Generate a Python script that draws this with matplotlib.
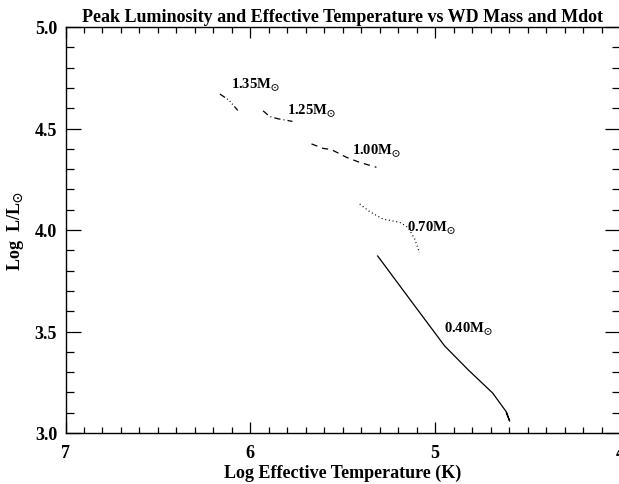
import matplotlib
matplotlib.use("Agg")
import matplotlib.pyplot as plt
from matplotlib.ticker import MultipleLocator

plt.rcParams['font.family'] = ['Liberation Serif', 'DejaVu Serif']
plt.rcParams['font.weight'] = 'bold'
plt.rcParams['mathtext.fontset'] = 'stix'

# Data (log Teff, log L/Lsun)
teff_040 = [5.311, 5.130, 4.949, 4.820, 4.689, 4.614, 4.597, 4.615]
logl_040 = [3.872, 3.650, 3.429, 3.310, 3.197, 3.103, 3.059, 3.099]

teff_070 = [5.408, 5.354, 5.282, 5.192, 5.147, 5.111, 5.084]
logl_070 = [4.128, 4.090, 4.054, 4.038, 4.013, 3.956, 3.887]

teff_100 = [5.669, 5.606, 5.561, 5.480, 5.408, 5.318]
logl_100 = [4.424, 4.402, 4.396, 4.358, 4.333, 4.309]

teff_125 = [5.931, 5.895, 5.851, 5.772]
logl_125 = [4.587, 4.559, 4.548, 4.535]

teff_135 = [6.165, 6.116, 6.068]
logl_135 = [4.670, 4.640, 4.589]

mass_labels = ["0.40", "0.70", "1.00", "1.25", "1.35"]
label_x = [4.951, 5.154, 5.451, 5.803, 6.105]
label_y = [3.520, 4.017, 4.397, 4.591, 4.719]

fig = plt.figure(figsize=(6.19, 4.85), dpi=100)
ax = fig.add_axes([65.5/619, 1-434/485, (620-65.5)/619, (434-28)/485])

lw = 0.9
ax.plot(teff_040, logl_040, color='black', lw=lw, linestyle='-')
ax.plot(teff_070, logl_070, color='black', lw=lw, linestyle=(0, (0.8, 2.2)))
ax.plot(teff_100, logl_100, color='black', lw=lw, linestyle=(0, (5, 4)))
ax.plot(teff_125, logl_125, color='black', lw=lw, linestyle=(0, (5, 2.5, 0.8, 2.5)))
ax.plot(teff_135, logl_135, color='black', lw=lw, linestyle=(0, (5, 2, 0.8, 2, 0.8, 2, 0.8, 2)))

for m, lx, ly in zip(mass_labels, label_x, label_y):
    ax.text(lx, ly, m + r"M$_{\odot}$", fontsize=10.5, fontweight='bold',
            ha='left', va='center')

ax.set_xlim(7, 4)
ax.set_ylim(3.0, 5.0)
ax.xaxis.set_major_locator(MultipleLocator(1))
ax.xaxis.set_minor_locator(MultipleLocator(0.1))
ax.yaxis.set_major_locator(MultipleLocator(0.5))
ax.yaxis.set_minor_locator(MultipleLocator(0.1))
ax.xaxis.set_major_formatter(plt.FuncFormatter(lambda v, p: "%d" % round(v)))
ax.yaxis.set_major_formatter(plt.FuncFormatter(lambda v, p: "%.1f" % v))

ax.tick_params(axis='x', which='major', direction='in', length=8, width=0.9,
               top=True, labelsize=13, pad=8)
ax.tick_params(axis='x', which='minor', direction='in', length=4, width=0.9, top=True)
ax.tick_params(axis='y', which='major', direction='in', length=11, width=0.9,
               right=True, labelsize=13, pad=6)
ax.tick_params(axis='y', which='minor', direction='in', length=5.5, width=0.9, right=True)
for lab in ax.get_xticklabels() + ax.get_yticklabels():
    lab.set_fontweight('bold')
for s in ax.spines.values():
    s.set_linewidth(1.0)

ax.set_xlabel("Log Effective Temperature (K)", fontsize=13, fontweight='bold', labelpad=2)
ax.set_ylabel(r"Log  L/L$_{\odot}$", fontsize=13, fontweight='bold', labelpad=6)
ax.set_title("Peak Luminosity and Effective Temperature vs WD Mass and Mdot",
             fontsize=13, fontweight='bold', pad=4)

fig.savefig("out.png", dpi=100)
